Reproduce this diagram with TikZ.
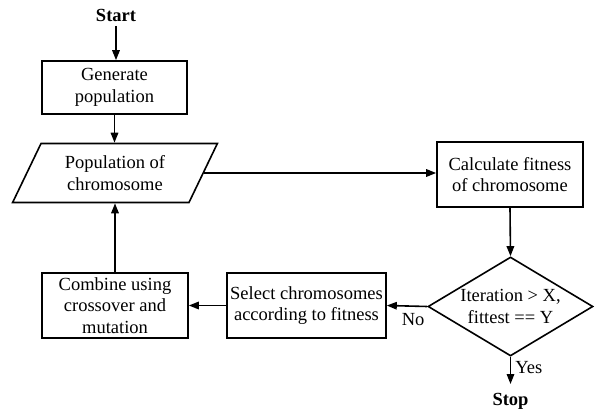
\documentclass[tikz,border=0pt]{standalone}
\usepackage{fontspec}
\setmainfont{Liberation Serif}
\usetikzlibrary{arrows.meta,shapes.geometric}
\tikzset{
  base/.style={draw, line width=1.6pt, align=center, inner sep=0pt,
    font=\rmfamily\fontsize{18.5}{21.5}\selectfont},
  procbox/.style={base, rectangle},
  iobox/.style={base, trapezium, trapezium left angle=61, trapezium right angle=119,
    trapezium stretches=true, minimum width=205pt, minimum height=59pt},
  decision/.style={base, diamond, aspect=1.667, minimum width=165pt, minimum height=99pt},
  term/.style={font=\rmfamily\bfseries\fontsize{18.5}{21.5}\selectfont, inner sep=0pt},
  lbl/.style={font=\rmfamily\fontsize{18.5}{21.5}\selectfont, inner sep=0pt},
  conn/.style={line width=1.6pt, -{Triangle[length=10pt,width=7.5pt]}}
}
\begin{document}
\begin{tikzpicture}[x=1pt,y=-1pt]
\useasboundingbox (0,0) rectangle (597,412);
\node[term] (start) at (116,15) {Start};
\node[procbox, minimum width=145pt, minimum height=53pt] (gen) at (114.5,87.5) {Generate\\population};
\node[iobox] (pop) at (115,173) {Population of\\chromosome};
\node[procbox, minimum width=146pt, minimum height=65pt] (calc) at (510,174.5) {Calculate fitness\\of chromosome};
\node[decision] (dec) at (510.5,306.5) {Iteration > X,\\fittest == Y};
\node[procbox, minimum width=159pt, minimum height=65pt] (sel) at (306.5,305.5) {Select chromosomes\\according to fitness};
\node[procbox, minimum width=146pt, minimum height=65pt] (comb) at (115,305.5) {Combine using\\crossover and\\mutation};
\node[term] (stop) at (510.5,401) {Stop};
\coordinate (stoptip) at (510.5,384);
\coordinate (starttail) at (116,26);

\draw[conn] (starttail) -- (starttail |- gen.north);
\draw[conn] (gen.south) -- (gen.south |- pop.north);
\draw[conn] (pop.east) -- (pop.east -| calc.west);
\draw[conn] (calc.south) -- (dec.north);
\draw[conn] (dec.west) -- (sel.east) node[lbl, pos=0.35, below=6pt] (no) {No};
\draw[conn] (sel.west) -- (comb.east);
\draw[conn] (comb.north) -- (comb.north |- pop.south);
\draw[conn] (dec.south) -- (stoptip) node[lbl, pos=0.4, right=4pt] (yes) {Yes};
\end{tikzpicture}
\end{document}
